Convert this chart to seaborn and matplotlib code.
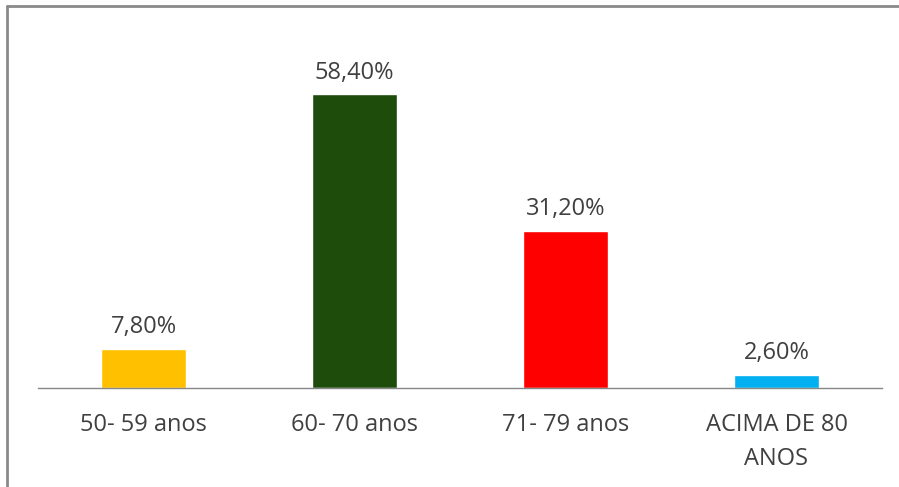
import pandas as pd
import matplotlib
matplotlib.use("Agg")
import matplotlib.pyplot as plt
import seaborn as sns
from matplotlib.lines import Line2D

faixas = ["50- 59 anos", "60- 70 anos", "71- 79 anos", "ACIMA DE 80\nANOS"]
percentuais = [7.8, 58.4, 31.2, 2.6]
rotulos = ["7,80%", "58,40%", "31,20%", "2,60%"]
cores = ["#FFC000", "#1E4D0B", "#FF0000", "#00B0F0"]

df = pd.DataFrame({"faixa": faixas, "pct": percentuais})

sns.set_style("white")
plt.rcParams["font.family"] = ["Open Sans", "DejaVu Sans"]

fig = plt.figure(figsize=(8.99, 4.87), dpi=100)
ax = fig.add_axes([38 / 899, 99 / 487, 844 / 899, 352 / 487])

sns.barplot(data=df, x="faixa", y="pct", hue="faixa", palette=cores,
            width=0.4, legend=False, ax=ax, saturation=1)

for cont, txt in zip(ax.containers, rotulos):
    ax.bar_label(cont, labels=[txt], padding=7, fontsize=17, color="#404040")

ax.set_xlim(-0.5, 3.5)
ax.set_ylim(0, 70)
ax.set_xlabel("")
ax.set_ylabel("")
ax.set_yticks([])
ax.tick_params(axis="x", length=0, pad=18, labelsize=17, labelcolor="#404040")
for lbl in ax.get_xticklabels():
    lbl.set_linespacing(1.55)
    lbl.set_verticalalignment("top")

for s in ["top", "right", "left"]:
    ax.spines[s].set_visible(False)
ax.spines["bottom"].set_color("#868686")
ax.spines["bottom"].set_linewidth(1)

# moldura cinza (topo e esquerda)
fig.add_artist(Line2D([7 / 899, 1], [1 - 6 / 487, 1 - 6 / 487],
                      transform=fig.transFigure, color="#8a8a8a", lw=2))
fig.add_artist(Line2D([7 / 899, 7 / 899], [0, 1 - 6 / 487],
                      transform=fig.transFigure, color="#8a8a8a", lw=2))

fig.savefig("out.png", dpi=100)
